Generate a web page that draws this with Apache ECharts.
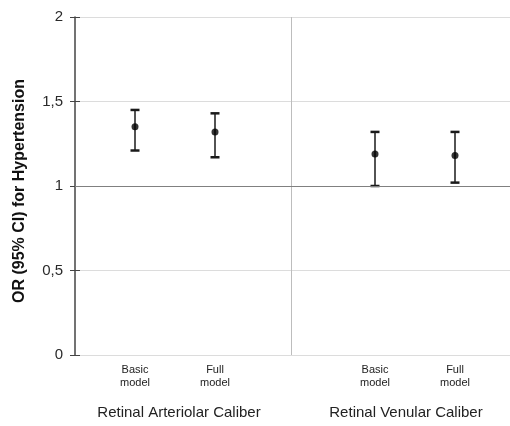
<!DOCTYPE html>
<html>
<head>
<meta charset="utf-8">
<script src="https://cdn.jsdelivr.net/npm/echarts@6/dist/echarts.min.js"></script>
<style>
    html, body { margin: 0; padding: 0; background: #fff; }
    #chart { width: 510px; height: 426px; }
</style>
</head>
<body>
<div id="chart"></div>
<script>
// odds ratios with 95% CI
const modelLabels = ['Basic\nmodel', 'Full\nmodel', 'Basic\nmodel', 'Full\nmodel'];
const modelPos = [3, 7, 15, 19];
const orValues = [1.35, 1.32, 1.19, 1.18];
const ciLow = [1.21, 1.17, 1.00, 1.02];
const ciHigh = [1.45, 1.43, 1.32, 1.32];

const groupLabels = ['Retinal Arteriolar Caliber', 'Retinal Venular Caliber'];
const groupPos = [5.2, 16.55];
const groupSplit = 10.8;

const yTicks = [0, 0.5, 1, 1.5, 2];
const refLine = 1;

const font = 'Liberation Sans, Arial, sans-serif';
const chart = echarts.init(document.getElementById('chart'));

function renderErrorBar(params, api) {
    const x = api.value(0);
    const lo = api.coord([x, api.value(1)]);
    const hi = api.coord([x, api.value(2)]);
    const cap = 4.5;
    const capStyle = { stroke: '#1a1a1a', lineWidth: 2.5 };
    return {
        type: 'group',
        children: [
            { type: 'line', shape: { x1: lo[0], y1: lo[1], x2: hi[0], y2: hi[1] }, style: { stroke: '#1a1a1a', lineWidth: 1.5 } },
            { type: 'line', shape: { x1: hi[0] - cap, y1: hi[1], x2: hi[0] + cap, y2: hi[1] }, style: capStyle },
            { type: 'line', shape: { x1: lo[0] - cap, y1: lo[1], x2: lo[0] + cap, y2: lo[1] }, style: capStyle }
        ]
    };
}

const xMax = 21.75;

const option = {
    animation: false,
    grid: { left: 75, right: 0, top: 17, bottom: 71, outerBoundsMode: 'none' },
    xAxis: [
        {
            type: 'value', min: 0, max: xMax, interval: 1,
            axisLine: { show: false }, axisTick: { show: false }, splitLine: { show: false },
            axisLabel: {
                margin: 8, fontSize: 11, lineHeight: 13, color: '#222', fontFamily: font,
                showMaxLabel: false,
                formatter: function (v) {
                    const i = modelPos.indexOf(Math.round(v));
                    return (i >= 0 && Math.abs(v - Math.round(v)) < 1e-6) ? modelLabels[i] : '';
                }
            }
        },
        {
            type: 'value', min: 0, max: xMax, interval: 0.05, position: 'bottom',
            axisLine: { show: false }, axisTick: { show: false }, splitLine: { show: false },
            axisLabel: {
                margin: 50, fontSize: 15, color: '#222', fontFamily: font,
                showMaxLabel: false,
                formatter: function (v) {
                    const i = groupPos.findIndex(p => Math.round(p * 20) === Math.round(v * 20));
                    return i >= 0 ? groupLabels[i] : '';
                }
            }
        }
    ],
    yAxis: [
        {
            type: 'value', min: yTicks[0], max: yTicks[yTicks.length - 1], interval: yTicks[1] - yTicks[0],
            name: 'OR (95% CI) for Hypertension', nameLocation: 'middle', nameGap: 47, nameRotate: 90,
            nameTextStyle: { fontSize: 16, fontWeight: 'bold', color: '#111', fontFamily: font, padding: [0, 10, 0, 0] },
            axisLine: { show: true, lineStyle: { color: '#444', width: 1.5 } },
            axisTick: { show: true, length: 5, lineStyle: { color: '#444', width: 1 } },
            axisLabel: { margin: 12, fontSize: 15, color: '#2a2a2a', fontFamily: font, formatter: v => String(v).replace('.', ',') },
            splitLine: { show: true, lineStyle: { color: '#dcdcdc', width: 1 } }
        },
        {
            type: 'value', min: yTicks[0], max: yTicks[yTicks.length - 1], interval: yTicks[1] - yTicks[0], position: 'left',
            axisLine: { show: false },
            axisTick: { show: true, inside: true, length: 5, lineStyle: { color: '#444', width: 1 } },
            axisLabel: { show: false }, splitLine: { show: false }
        }
    ],
    series: [
        {
            type: 'custom',
            renderItem: renderErrorBar,
            encode: { x: 0, y: [1, 2] },
            data: modelPos.map((x, i) => [x, ciLow[i], ciHigh[i]]),
            z: 3,
            markLine: {
                silent: true, symbol: 'none', label: { show: false },
                data: [
                    { xAxis: groupSplit, lineStyle: { color: '#bdbdbd', width: 1, type: 'solid' } },
                    { yAxis: refLine, lineStyle: { color: '#808080', width: 1.2, type: 'solid' } }
                ]
            }
        },
        {
            type: 'scatter',
            symbol: 'circle', symbolSize: 7,
            itemStyle: { color: '#000' },
            data: modelPos.map((x, i) => [x, orValues[i]]),
            z: 4
        }
    ]
};
chart.setOption(option);
</script>
</body>
</html>
